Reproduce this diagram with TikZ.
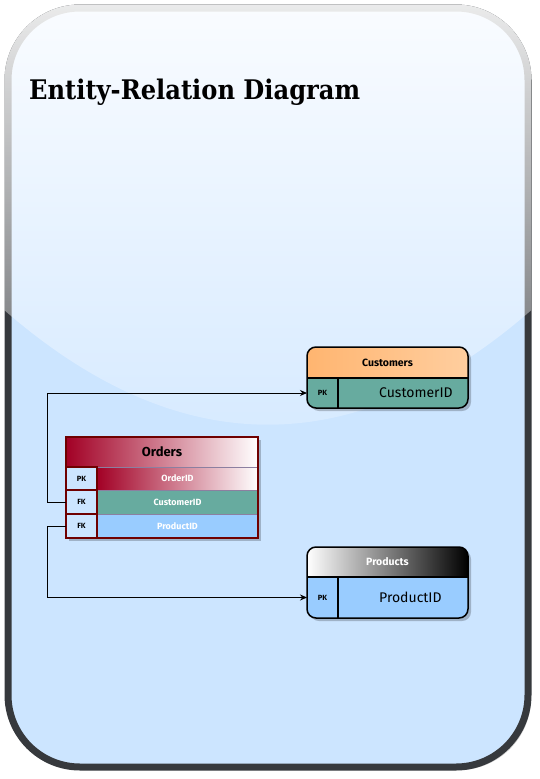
\documentclass[tikz,border=0pt]{standalone}
\usepackage{fontspec}
\usepackage{xcolor}
\usetikzlibrary{positioning,shadows,fadings,arrows.meta}
\newfontfamily\titlefont{DejaVu Serif}
\newfontfamily\erfont{Fira Sans}

\definecolor{pagefill}{HTML}{CCE5FF}
\definecolor{pageline}{HTML}{36393D}
\definecolor{custA}{HTML}{FFB570}
\definecolor{custB}{HTML}{FFCE9F}
\definecolor{tealrow}{HTML}{67AB9F}
\definecolor{bluerow}{HTML}{99CCFF}
\definecolor{keyfill}{HTML}{CCE5FF}
\definecolor{ordred}{HTML}{A20025}
\definecolor{ordline}{HTML}{6F0000}
\definecolor{rowline}{HTML}{8C7FA0}

\tikzfading[name=glassfade, top color=transparent!10, bottom color=transparent!83]

\begin{document}
\begin{tikzpicture}[%
    x=1pt,
    y=-1pt,
    link/.style={%
      -{Stealth[length=7pt,width=6pt]},
      line width=0.9pt
    },
    shade/.style={%
      drop shadow={shadow xshift=3pt, shadow yshift=-3pt, fill=black, opacity=0.22}
    },
    cell/.style={%
      anchor=north west,
      inner sep=0pt,
      outer sep=0pt
    },
    headcell/.style={%
      cell,
      minimum height=30pt,
      font=\erfont\bfseries\fontsize{10.5}{12}\selectfont
    },
    keycell/.style={%
      cell,
      minimum width=31pt,
      font=\erfont\bfseries\fontsize{7.5}{9}\selectfont
    },
    valcell/.style={%
      cell,
      minimum width=130pt
    },
    valtext/.style={%
      anchor=west,
      inner sep=0pt,
      font=\erfont\fontsize{14}{16}\selectfont
    },
    ordrow/.style={%
      cell,
      minimum width=161pt,
      text=white,
      draw=rowline,
      line width=0.5pt,
      font=\erfont\bfseries\fontsize{9}{10}\selectfont
    },
    ordkey/.style={%
      keycell,
      fill=keyfill,
      draw=ordline,
      line width=1.8pt
    }
  ]
    \useasboundingbox (0,0) rectangle (539,779);

    % page
    \fill[pagefill, shade, rounded corners=72] (8,8) rectangle (528,767);
    \draw[pageline, line width=7pt, rounded corners=72] (8,8) rectangle (528,767);
    \begin{scope}
      \clip[rounded corners=75.5] (4.5,4.5) rectangle (531.5,770.5);
      \fill[white, path fading=glassfade] (4.5,4.5) -- (531.5,4.5) -- (531.5,310)
        .. controls (355.8,462.7) and (180.2,462.7) .. (4.5,310) -- cycle;
    \end{scope}
    \node[anchor=base west, inner sep=0pt] (title) at (29,99)
      {\titlefont\bfseries\fontsize{27}{30}\selectfont\scalebox{0.895}[1]{Entity-Relation Diagram}};

    % Customers
    \path[shade, rounded corners=9] (307,347) rectangle (468,408);
    \begin{scope}
      \clip[rounded corners=9] (307,347) rectangle (468,408);
      \node[headcell, minimum width=161pt, minimum height=31pt, left color=custA, right color=custB] (chead) at (307,347) {Customers};
      \node[keycell, minimum height=30pt, fill=tealrow] (cpk) at (307,378) {PK};
      \node[valcell, minimum height=30pt, fill=tealrow] (cval) at (338,378) {};
    \end{scope}
    \node[valtext] (cid) [right=41pt of cval.west] {CustomerID};
    \draw[line width=1.5pt, rounded corners=9] (307,347) rectangle (468,408);
    \draw[line width=1.5pt] (chead.south west) -- (chead.south east)
      (cpk.north east) -- (cpk.south east);

    % Products
    \path[shade, rounded corners=9] (307,547) rectangle (468,618);
    \begin{scope}
      \clip[rounded corners=9] (307,547) rectangle (468,618);
      \node[headcell, minimum width=161pt, text=white, left color=white, right color=black] (phead) at (307,547) {Products};
      \node[keycell, minimum height=41pt, fill=bluerow] (ppk) at (307,577) {PK};
      \node[valcell, minimum height=41pt, fill=bluerow] (pval) at (338,577) {};
    \end{scope}
    \node[valtext] (pid) [right=41pt of pval.west] {ProductID};
    \draw[line width=1.5pt, rounded corners=9] (307,547) rectangle (468,618);
    \draw[line width=1.5pt] (phead.south west) -- (phead.south east)
      (ppk.north east) -- (ppk.south east);

    % Orders
    \path[shade] (66,437) rectangle (258,538);
    \node[headcell, minimum width=192pt, font=\erfont\bfseries\fontsize{13}{15}\selectfont, left color=ordred, right color=white] (ohead) at (66,437) {Orders};
    \node[ordrow, minimum height=23pt, left color=ordred, right color=white] (oid) at (97,467) {OrderID};
    \node[ordrow, minimum height=24pt, fill=tealrow] (ocust) at (97,490) {CustomerID};
    \node[ordrow, minimum height=24pt, fill=bluerow] (oprod) at (97,514) {ProductID};
    \node[ordkey, minimum height=23pt] (opk) at (66,467) {PK};
    \node[ordkey, minimum height=24pt] (ofk1) at (66,490) {FK};
    \node[ordkey, minimum height=24pt] (ofk2) at (66,514) {FK};
    \draw[ordline, line width=2.5pt] (66,437) rectangle (258,538);

    \draw[link] (ofk1.west) -- ++(-19,0) |- (cpk.west);
    \draw[link] (ofk2.west) -- ++(-19,0) |- (ppk.west);
  \end{tikzpicture}
\end{document}
